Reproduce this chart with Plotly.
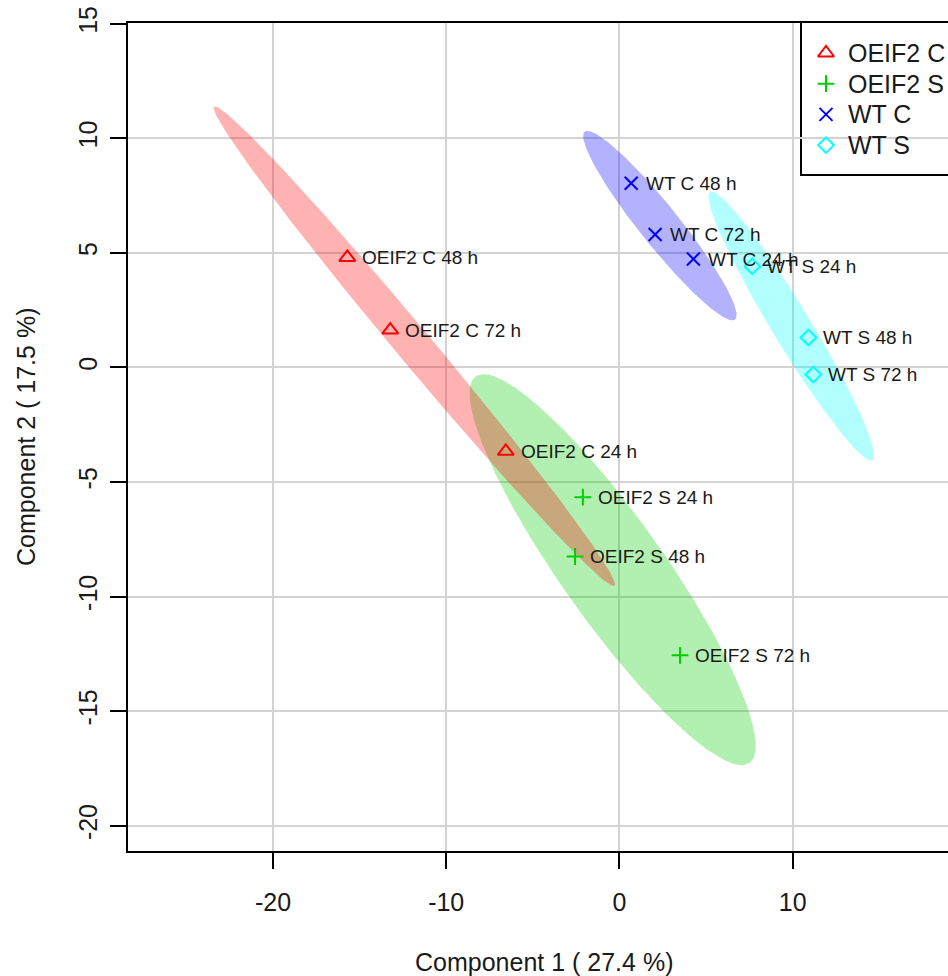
import numpy as np
import plotly.graph_objects as go

# ---------------- data ----------------
groups = ["OEIF2 C", "OEIF2 S", "WT C", "WT S"]
times = ["24 h", "48 h", "72 h"]

oeif2_c_x = [-6.56, -15.71, -13.23]
oeif2_c_y = [-3.66, 4.80, 1.63]
oeif2_s_x = [-2.11, -2.56, 3.50]
oeif2_s_y = [-5.66, -8.25, -12.56]
wt_c_x = [4.27, 0.68, 2.06]
wt_c_y = [4.73, 8.04, 5.80]
wt_s_x = [7.67, 10.91, 11.19]
wt_s_y = [4.41, 1.31, -0.31]

x_title = "Component 1 ( 27.4 %)"
y_title = "Component 2 ( 17.5 %)"
x_ticks = [-20, -10, 0, 10]
y_ticks = [-20, -15, -10, -5, 0, 5, 10, 15]
x_ticktext = ["-20", "-10", "0", "10"]
y_ticktext = ["-20", "-15", "-10", "-5", "0", "5", "10", "15"]

# ---------------- styles ----------------
colors = ["#FF0000", "#00CD00", "#0000FF", "#00FFFF"]
symbols = ["triangle-up-open", "cross-thin-open", "x-thin-open", "diamond-open"]
sizes = [14, 12, 13, 12]
fill_alpha = 0.3
FONT = "Liberation Sans, Arial, sans-serif"
TXT = "#1a1a1a"

data_x = [oeif2_c_x, oeif2_s_x, wt_c_x, wt_s_x]
data_y = [oeif2_c_y, oeif2_s_y, wt_c_y, wt_s_y]

# page geometry (body margin removed via post_script)
W, H = 948, 976
M_L, M_R, M_T, M_B = 128, 0, 23, 125
PLOT_W = W - M_L - M_R
PLOT_H = H - M_T - M_B


def px_to_paper_x(px):
    return (px - M_L) / PLOT_W


def px_to_paper_y(py):
    return (H - M_B - py) / PLOT_H


def conf_ellipse(xs, ys, level=0.95, n=200):
    pts = np.column_stack([xs, ys])
    c = pts.mean(axis=0)
    cov = np.cov(pts, rowvar=False)
    t = np.sqrt(-2.0 * np.log(1.0 - level))  # sqrt(qchisq(level, 2))
    vals, vecs = np.linalg.eigh(cov)
    ang = np.linspace(0, 2 * np.pi, n)
    circ = np.column_stack([np.cos(ang), np.sin(ang)])
    e = circ * (t * np.sqrt(np.maximum(vals, 0)))
    e = e @ vecs.T + c
    return e[:, 0], e[:, 1]


def hex_rgba(h, a):
    h = h.lstrip("#")
    r, g, b = int(h[0:2], 16), int(h[2:4], 16), int(h[4:6], 16)
    return f"rgba({r},{g},{b},{a})"


fig = go.Figure()

# ellipses (green under red so overlap reads tan)
for i in [1, 0, 2, 3]:
    ex, ey = conf_ellipse(data_x[i], data_y[i])
    fig.add_trace(go.Scatter(
        x=ex, y=ey, mode="lines", fill="toself",
        fillcolor=hex_rgba(colors[i], fill_alpha),
        line=dict(width=0, color=hex_rgba(colors[i], 0)),
        hoverinfo="skip", showlegend=False))

# points
for i, g in enumerate(groups):
    fig.add_trace(go.Scatter(
        x=data_x[i], y=data_y[i], mode="markers", name=g, showlegend=False,
        marker=dict(symbol=symbols[i], size=sizes[i], color=colors[i],
                    line=dict(width=2, color=colors[i]))))

# point labels
annotations = []
for i, g in enumerate(groups):
    for xv, yv, tm in zip(data_x[i], data_y[i], times):
        annotations.append(dict(
            x=xv, y=yv, xref="x", yref="y", text=f"{g} {tm}",
            showarrow=False, xanchor="left", yanchor="middle", xshift=13,
            font=dict(family=FONT, size=19, color=TXT)))

# axis titles
annotations.append(dict(x=px_to_paper_x(543.7), y=px_to_paper_y(962),
                        xref="paper", yref="paper",
                        text=x_title, showarrow=False, xanchor="center", yanchor="middle",
                        font=dict(family=FONT, size=25, color=TXT)))
annotations.append(dict(x=px_to_paper_x(26), y=0.5, xref="paper", yref="paper",
                        text=y_title, showarrow=False, textangle=-90,
                        xanchor="center", yanchor="middle",
                        font=dict(family=FONT, size=25, color=TXT)))

# ---------------- legend (drawn manually, box runs off the right edge) ----------------
leg_left, leg_top, leg_bottom = 801, 22, 175
leg_sym_x, leg_txt_x = 826, 846
leg_row0, leg_step = 53, 30.7
leg_rows_y = [px_to_paper_y(leg_row0 + k * leg_step) for k in range(len(groups))]

lx0, lx1 = px_to_paper_x(leg_left), 1.1
ly0, ly1 = px_to_paper_y(leg_bottom), px_to_paper_y(leg_top)
shapes = [
    dict(type="rect", xref="paper", yref="paper", layer="between",
         x0=lx0, x1=lx1, y0=ly0, y1=ly1,
         line=dict(width=0), fillcolor="white"),
    dict(type="path", xref="paper", yref="paper", layer="between",
         path=f"M{lx1},{ly1} L{lx0},{ly1} L{lx0},{ly0} L{lx1},{ly0}",
         line=dict(color="black", width=2)),
]

for k, g in enumerate(groups):
    fig.add_trace(go.Scatter(
        x=[px_to_paper_x(leg_sym_x)], y=[leg_rows_y[k]], xaxis="x2", yaxis="y2",
        mode="markers", showlegend=False, hoverinfo="skip", cliponaxis=False,
        marker=dict(symbol=symbols[k], size=sizes[k], color=colors[k],
                    line=dict(width=2, color=colors[k]))))
    annotations.append(dict(x=px_to_paper_x(leg_txt_x), y=leg_rows_y[k],
                            xref="paper", yref="paper", text=g, showarrow=False,
                            xanchor="left", yanchor="middle",
                            font=dict(family=FONT, size=25, color=TXT)))

fig.update_layout(
    width=W, height=H,
    margin=dict(l=M_L, r=M_R, t=M_T, b=M_B, autoexpand=False),
    paper_bgcolor="white", plot_bgcolor="white",
    font=dict(family=FONT, size=25, color=TXT),
    annotations=annotations, shapes=shapes,
    showlegend=False,
    xaxis2=dict(overlaying="x", range=[0, 1], visible=False, fixedrange=True),
    yaxis2=dict(overlaying="y", range=[0, 1], visible=False, fixedrange=True),
)

fig.layout.xaxis.update(range=[-28.37, 18.97], tickvals=x_ticks, ticktext=x_ticktext,
                        showgrid=True, gridcolor="#d3d3d3", gridwidth=1.5,
                        zeroline=False, showline=True, linecolor="black", linewidth=2,
                        mirror=True, ticks="outside", ticklen=16, tickwidth=2, tickcolor="black",
                        tickfont=dict(family=FONT, size=25, color=TXT),
                        ticklabelstandoff=12)
fig.layout.yaxis.update(range=[-21.10, 15.03], tickvals=y_ticks, ticktext=y_ticktext,
                        showgrid=True, gridcolor="#d3d3d3", gridwidth=1.5,
                        zeroline=False, showline=True, linecolor="black", linewidth=2,
                        mirror=False, ticks="outside", ticklen=16, tickwidth=2, tickcolor="black",
                        tickangle=-90,
                        tickfont=dict(family=FONT, size=25, color=TXT),
                        ticklabelstandoff=3)

fig.write_html("out.html",
               config={"displayModeBar": False},
               post_script="document.body.style.margin='0';"
                           "document.documentElement.style.overflow='hidden';")
